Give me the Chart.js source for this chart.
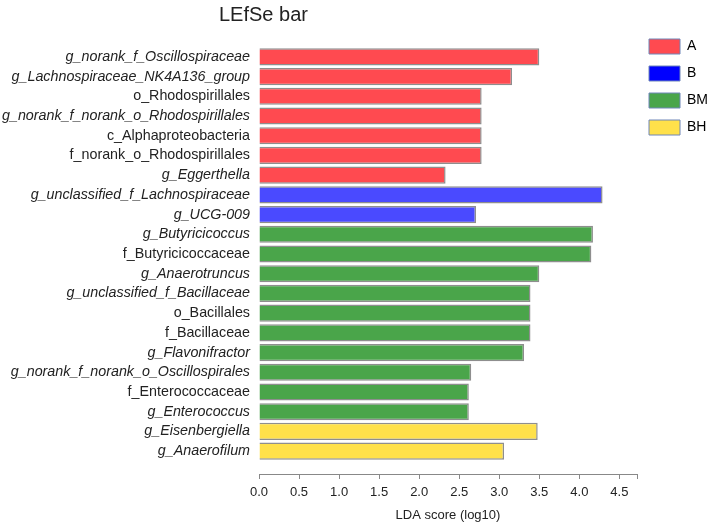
<!DOCTYPE html>
<html>
<head>
<meta charset="utf-8">
<script src="https://cdn.jsdelivr.net/npm/chart.js@4/dist/chart.umd.min.js"></script>
<style>
  html, body { margin: 0; padding: 0; background: #ffffff; }
  #wrap { position: relative; width: 708px; height: 524px; }
  #title { position: absolute; left: 219px; top: 2px; font: 20px "Liberation Sans", Arial, sans-serif; line-height: 24px; color: #222; white-space: nowrap; }
  canvas { position: absolute; left: 0; top: 0; }
</style>
</head>
<body>
<div id="wrap">
  <canvas id="c" width="708" height="524"></canvas>
  <div id="title">LEfSe bar</div>
</div>
<script>
const categories = [
  'g_norank_f_Oscillospiraceae',
  'g_Lachnospiraceae_NK4A136_group',
  'o_Rhodospirillales',
  'g_norank_f_norank_o_Rhodospirillales',
  'c_Alphaproteobacteria',
  'f_norank_o_Rhodospirillales',
  'g_Eggerthella',
  'g_unclassified_f_Lachnospiraceae',
  'g_UCG-009',
  'g_Butyricicoccus',
  'f_Butyricicoccaceae',
  'g_Anaerotruncus',
  'g_unclassified_f_Bacillaceae',
  'o_Bacillales',
  'f_Bacillaceae',
  'g_Flavonifractor',
  'g_norank_f_norank_o_Oscillospirales',
  'f_Enterococcaceae',
  'g_Enterococcus',
  'g_Eisenbergiella',
  'g_Anaerofilum'
];
const groupOfCategory = [
  'A','A','A','A','A','A','A',
  'B','B',
  'BM','BM','BM','BM','BM','BM','BM','BM','BM','BM',
  'BH','BH'
];
const ldaScores = [
  3.50, 3.16, 2.78, 2.78, 2.78, 2.78, 2.33,
  4.29, 2.71,
  4.17, 4.15, 3.50, 3.39, 3.39, 3.39, 3.31, 2.65, 2.62, 2.62,
  3.48, 3.06
];
const groupNames = ['A', 'B', 'BM', 'BH'];
const barColors = ['#ff4a50', '#4a4aff', '#4aa54a', '#ffe14a'];
const legendColors = ['#ff4a50', '#0000ff', '#4aa54a', '#ffe14a'];
const xTickValues = [0, 0.5, 1, 1.5, 2, 2.5, 3, 3.5, 4, 4.5];

const FONT = '"Liberation Sans", Arial, sans-serif';

const datasets = groupNames.map((g, gi) => ({
  label: g,
  data: ldaScores.map((v, i) => groupOfCategory[i] === g ? v : null),
  backgroundColor: barColors[gi],
  borderColor: '#8e8e8e',
  borderWidth: 1.5,
  grouped: false,
  barPercentage: 0.87,
  categoryPercentage: 1.0,
  xAxisID: 'x',
  yAxisID: 'y'
}));

new Chart(document.getElementById('c'), {
  type: 'bar',
  data: { labels: categories, datasets },
  options: {
    indexAxis: 'y',
    responsive: false,
    animation: false,
    devicePixelRatio: 1,
    layout: { padding: { top: 27, right: 0, bottom: 0, left: 0 } },
    plugins: {
      title: { display: false },
      tooltip: { enabled: false },
      legend: {
        position: 'right',
        align: 'start',
        maxWidth: 71,
        labels: {
          boxWidth: 31,
          boxHeight: 15,
          padding: 12,
          color: '#222',
          font: { size: 14, family: FONT },
          generateLabels: () => groupNames.map((g, i) => ({
            text: g,
            fillStyle: legendColors[i],
            strokeStyle: '#6f86b8',
            lineWidth: 1,
            hidden: false,
            datasetIndex: i
          }))
        }
      }
    },
    scales: {
      y: {
        type: 'category',
        position: 'left',
        grid: { display: false, drawTicks: false },
        border: { display: false },
        ticks: {
          padding: 9,
          color: '#222',
          autoSkip: false,
          font: (ctx) => ({
            size: 14.3,
            family: FONT,
            style: (categories[ctx.index] || '').startsWith('g_') ? 'italic' : 'normal'
          })
        },
        afterFit: (s) => { s.width = 259; }
      },
      xTop: {
        type: 'linear',
        position: 'top',
        display: true,
        min: 0, max: 1,
        grid: { display: false },
        border: { display: false },
        ticks: { display: false },
        afterFit: (s) => { s.height = 20; }
      },
      xGap: {
        type: 'linear',
        position: 'bottom',
        weight: 0,
        display: true,
        min: 0, max: 1,
        grid: { display: false },
        border: { display: false },
        ticks: { display: false },
        afterFit: (s) => { s.height = 13; }
      },
      x: {
        type: 'linear',
        position: 'bottom',
        weight: 1,
        min: 0,
        max: 4.72,
        afterBuildTicks: (s) => {
          s.ticks = xTickValues.map(v => ({ value: v })).concat([{ value: s.max }]);
        },
        afterFit: (s) => { s.height = 50; },
        grid: { display: true, drawOnChartArea: false, drawTicks: true, tickLength: 5, color: '#888', lineWidth: 1 },
        border: { display: true, color: '#888', width: 1 },
        ticks: {
          padding: 6,
          color: '#222',
          font: { size: 13, family: FONT },
          autoSkip: false,
          maxRotation: 0,
          callback: (v) => xTickValues.includes(v) ? v.toFixed(1) : ''
        },
        title: {
          display: true,
          text: 'LDA score (log10)',
          color: '#222',
          font: { size: 13, family: FONT },
          padding: { top: 4, bottom: 1 }
        }
      }
    }
  }
});
</script>
</body>
</html>
